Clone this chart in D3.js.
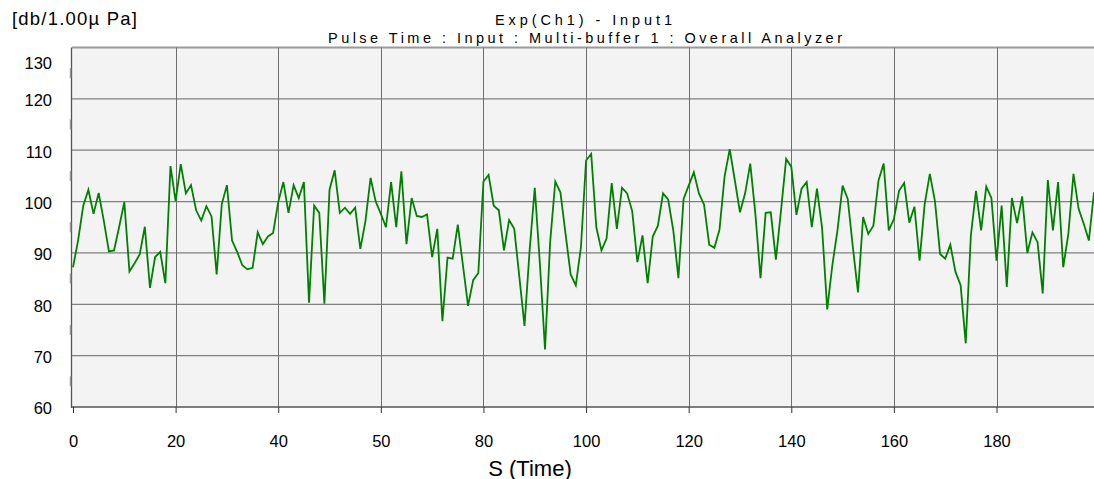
<!DOCTYPE html>
<html>
<head>
<meta charset="utf-8">
<script src="https://cdn.jsdelivr.net/npm/d3@7/dist/d3.min.js"></script>
<style>
  html, body { margin: 0; padding: 0; background: #fff; overflow: hidden; }
  #graph { width: 1094px; height: 479px; }
  text { font-family: "Liberation Sans", Arial, sans-serif; fill: #000; }
</style>
</head>
<body>
<div id="graph"></div>
<script>
// level per time step
var levels = [
  87.2, 92.5, 99.2, 102.3, 97.6, 101.7, 96.3, 90.3, 90.5, 95.1,
  99.9, 86.4, 88.0, 89.7, 95.1, 83.2, 89.2, 90.2, 84.1, 106.9,
  100.1, 107.3, 101.6, 103.2, 98.3, 96.3, 99.1, 97.1, 85.8, 99.5,
  103.2, 92.4, 90.2, 87.6, 86.8, 87.1, 94.0, 91.7, 93.2, 93.9,
  99.9, 103.8, 97.8, 103.2, 100.7, 103.8, 80.3, 99.2, 97.8, 80.1,
  102.3, 106.1, 97.8, 98.8, 97.6, 98.8, 90.8, 96.2, 104.6, 100.0,
  97.6, 95.0, 103.8, 95.0, 105.9, 91.7, 100.7, 97.2, 97.0, 97.5,
  89.2, 94.7, 76.7, 89.1, 88.9, 95.5, 87.6, 79.7, 84.7, 86.1,
  103.9, 105.2, 99.2, 98.3, 90.5, 96.4, 94.7, 85.3, 75.8, 90.5,
  102.7, 87.9, 71.2, 92.1, 103.9, 101.8, 93.7, 85.8, 83.7, 91.1,
  108.0, 109.3, 95.0, 90.5, 92.8, 103.6, 94.7, 102.7, 101.6, 98.1,
  88.2, 93.4, 84.1, 93.2, 95.3, 101.6, 100.4, 94.4, 85.1, 100.5,
  103.1, 105.7, 101.6, 99.4, 91.6, 91.0, 94.5, 104.9, 110.2, 104.1,
  97.9, 101.6, 107.4, 97.6, 85.1, 97.8, 97.9, 88.7, 98.3, 108.3,
  106.8, 97.4, 102.5, 103.8, 95.0, 102.5, 94.9, 79.0, 87.6, 94.4,
  103.1, 100.5, 91.1, 82.3, 97.0, 93.7, 95.3, 104.1, 107.4, 94.4,
  96.6, 102.1, 103.6, 95.9, 99.0, 88.5, 99.5, 105.4, 100.1, 89.8,
  88.9, 91.6, 86.3, 83.7, 72.4, 93.4, 102.1, 94.4, 102.9, 100.7,
  88.5, 99.2, 83.4, 100.7, 95.8, 101.0, 90.0, 94.0, 92.1, 82.1,
  104.2, 94.4, 103.8, 87.2, 93.7, 105.4, 98.6, 95.7, 92.4, 101.8
];

// x ticks and the labels the analyzer printed under them
var xTickValues = [0, 20, 40, 60, 80, 100, 120, 140, 160, 180];
var xTickLabels = ["0", "20", "40", "50", "80", "100", "120", "140", "160", "180"];
var yTickValues = [60, 70, 80, 90, 100, 110, 120, 130];
var yMinorTicks = [65, 75, 85, 95, 105, 115, 125];

var titleLine1 = "Exp(Ch1) - Input1";
var titleLine2 = "Pulse Time : Input : Multi-buffer 1 : Overall Analyzer";
var yUnit = "[db/1.00\u00b5 Pa]";
var xTitle = "S (Time)";

var width = 1094, height = 479;
var plot = { left: 72, right: 1094, top: 47.5, bottom: 407 };

var svg = d3.select("#graph").append("svg")
  .attr("width", width)
  .attr("height", height);

var x = d3.scaleLinear().domain([0, levels.length - 1]).range([plot.left + 1, plot.right]);
var y = d3.scaleLinear().domain([60, 130]).range([plot.bottom, plot.top]);

// panel
svg.append("rect")
  .attr("x", plot.left)
  .attr("y", plot.top)
  .attr("width", plot.right - plot.left)
  .attr("height", plot.bottom - plot.top)
  .attr("fill", "#f3f3f3");

// grid
var grid = svg.append("g").attr("class", "grid");
grid.selectAll("line.h")
  .data(yTickValues.slice(1))
  .enter().append("line")
  .attr("class", "h")
  .attr("x1", plot.left)
  .attr("x2", plot.right)
  .attr("y1", function(d) { return y(d); })
  .attr("y2", function(d) { return y(d); })
  .attr("stroke", function(d) { return d === 130 ? "#9a9a9a" : "#808080"; })
  .attr("stroke-width", function(d) { return d === 130 ? 1.8 : 1.2; });

grid.selectAll("line.v")
  .data(xTickValues.slice(1))
  .enter().append("line")
  .attr("class", "v")
  .attr("x1", function(d) { return Math.round(x(d)) + 0.5; })
  .attr("x2", function(d) { return Math.round(x(d)) + 0.5; })
  .attr("y1", plot.top)
  .attr("y2", plot.bottom)
  .attr("stroke", "#6e6e6e")
  .attr("stroke-width", 1);

// axes
var xAxis = d3.axisBottom(x)
  .tickValues(xTickValues)
  .tickSize(6)
  .tickFormat(function(d, i) { return xTickLabels[i]; });

var gx = svg.append("g")
  .attr("transform", "translate(0," + plot.bottom + ")")
  .call(xAxis);
gx.select(".domain").attr("stroke", "#555").attr("stroke-width", 1.6)
  .attr("d", "M" + plot.left + ",0H" + plot.right);
gx.selectAll(".tick line").attr("stroke", "#333");
gx.selectAll(".tick text")
  .attr("y", 28)
  .attr("dy", "0.71em")
  .style("font-size", "16.5px")
  .style("font-family", "'Liberation Sans', Arial, sans-serif");

svg.append("line")
  .attr("x1", plot.left - 0.5)
  .attr("x2", plot.left - 0.5)
  .attr("y1", plot.top)
  .attr("y2", plot.bottom + 1)
  .attr("stroke", "#555")
  .attr("stroke-width", 1.3);

// little marks between the y labels
svg.selectAll("line.minor")
  .data(yMinorTicks)
  .enter().append("line")
  .attr("class", "minor")
  .attr("x1", plot.left - 1.5)
  .attr("x2", plot.left - 1.5)
  .attr("y1", function(d) { return y(d) - 5; })
  .attr("y2", function(d) { return y(d) + 5; })
  .attr("stroke", "#999")
  .attr("stroke-width", 1.5);

svg.selectAll("text.ylab")
  .data(yTickValues)
  .enter().append("text")
  .attr("class", "ylab")
  .attr("x", 52)
  .attr("y", function(d) { return Math.max(y(d) + 1.5, 63); })
  .attr("dy", "0.36em")
  .attr("text-anchor", "end")
  .style("font-size", "16.5px")
  .text(function(d) { return d; });

// series
var line = d3.line()
  .x(function(d, i) { return x(i); })
  .y(function(d) { return y(d); });

svg.append("path")
  .datum(levels)
  .attr("d", line)
  .attr("fill", "none")
  .attr("stroke", "#008000")
  .attr("stroke-width", 1.8)
  .attr("stroke-linejoin", "miter");

// texts
svg.append("text")
  .attr("x", 12)
  .attr("y", 25)
  .attr("textLength", 125)
  .attr("lengthAdjust", "spacing")
  .style("font-size", "18.5px")
  .text(yUnit);

svg.append("text")
  .attr("x", 495)
  .attr("y", 25)
  .attr("textLength", 177)
  .attr("lengthAdjust", "spacing")
  .style("font-size", "14.5px")
  .text(titleLine1);

svg.append("text")
  .attr("x", 328)
  .attr("y", 42.5)
  .attr("textLength", 514)
  .attr("lengthAdjust", "spacing")
  .style("font-size", "14.5px")
  .text(titleLine2);

svg.append("text")
  .attr("x", 530)
  .attr("y", 476)
  .attr("text-anchor", "middle")
  .style("font-size", "22px")
  .text(xTitle);
</script>
</body>
</html>
